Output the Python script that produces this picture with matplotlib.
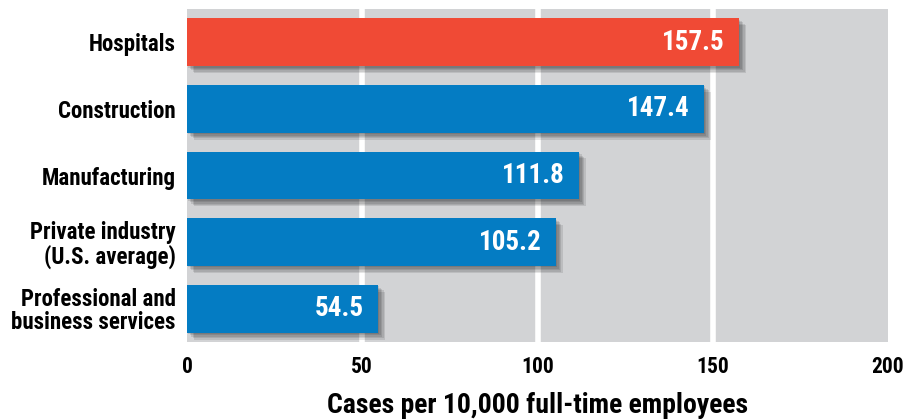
import matplotlib.pyplot as plt
import matplotlib.patheffects as pe
from matplotlib import font_manager

# Chart data
categories = ['Hospitals', 'Construction', 'Manufacturing',
              'Private industry\n(U.S. average)', 'Professional and\nbusiness services']
values = [157.5, 147.4, 111.8, 105.2, 54.5]
highlight = 'Hospitals'
xticks = [0, 50, 100, 150, 200]

RED = '#f04a35'
BLUE = '#047cc3'
BG = '#d2d3d5'

# Pick a narrow bold font if there is one
names = {f.name for f in font_manager.fontManager.ttflist}
family = 'DejaVu Sans'
for cand in ['Liberation Sans Narrow', 'Roboto Condensed', 'Open Sans Condensed']:
    if cand in names:
        family = cand
        break
plt.rcParams['font.family'] = [family, 'DejaVu Sans']
plt.rcParams['font.weight'] = 'bold'
plt.rcParams['font.stretch'] = 'condensed'

fig = plt.figure(figsize=(9.17, 4.2), dpi=100)
ax = fig.add_axes([187 / 917, 1 - 342 / 420, 701 / 917, 333 / 420])
ax.set_facecolor(BG)

ypos = list(range(len(categories)))
colors = [RED if c == highlight else BLUE for c in categories]

# Soft shadow built from a few offset translucent layers
shadow = [pe.SimplePatchShadow(offset=(d, -d), shadow_rgbFace='black', alpha=0.1)
          for d in (1, 2, 3, 4, 5)]
bars = ax.barh(ypos, values, height=0.72, color=colors, zorder=3,
               path_effects=shadow + [pe.Normal()])

for y, v in zip(ypos, values):
    ax.text(v - 4.0, y, f'{v:.1f}', ha='right', va='center', color='white',
            fontsize=19.5, fontweight='bold', zorder=4)

ax.set_xlim(0, 200)
ax.set_ylim(len(categories) - 0.5, -0.5)
ax.set_xticks(xticks)
ax.set_xticklabels([str(t) for t in xticks], fontsize=15.5, fontweight='bold')
ax.set_yticks(ypos)
ax.set_yticklabels(categories, fontsize=16.5, fontweight='bold', linespacing=1.0)
ax.tick_params(axis='both', length=0)
ax.tick_params(axis='y', pad=8)
ax.tick_params(axis='x', pad=10)

for t in xticks[1:-1]:
    ax.axvline(t, color='white', linewidth=4, zorder=1)

for s in ax.spines.values():
    s.set_visible(False)

ax.set_xlabel('Cases per 10,000 full-time employees', fontsize=20,
              fontweight='bold', labelpad=10)

fig.savefig('out.png', dpi=100)
